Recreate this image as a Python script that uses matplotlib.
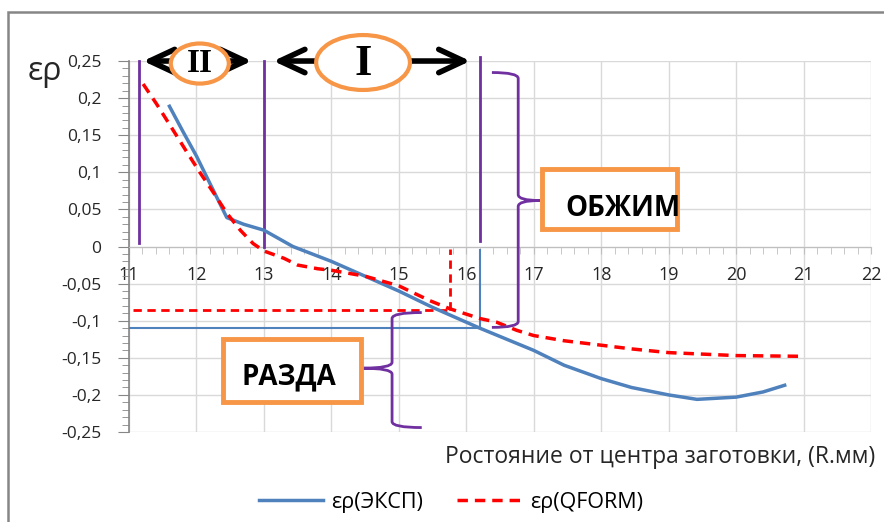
import matplotlib
matplotlib.use("Agg")
import matplotlib.pyplot as plt
from matplotlib.patches import Ellipse, Rectangle, FancyArrowPatch, PathPatch
from matplotlib.path import Path
from matplotlib.ticker import MultipleLocator, FixedLocator, FixedFormatter

plt.rcParams['font.family'] = ['Open Sans', 'DejaVu Sans']

# data
exp_x = [11.6, 11.8, 12.0, 12.2, 12.45, 12.7, 13.0, 13.43, 14.0, 14.5, 15.0, 15.5,
         16.2, 17.0, 17.45, 18.0, 18.45, 19.0, 19.42, 20.0, 20.4, 20.72]
exp_y = [0.189, 0.155, 0.122, 0.085, 0.039, 0.03, 0.022, 0.0, -0.02, -0.04, -0.06, -0.082,
         -0.11, -0.14, -0.16, -0.178, -0.19, -0.2, -0.206, -0.203, -0.196, -0.187]
qf_x = [11.21, 11.41, 11.66, 11.86, 12.05, 12.25, 12.45, 12.65, 12.84, 13.0, 13.3, 13.5,
        13.8, 14.0, 14.5, 15.0, 15.46, 15.76, 16.2, 16.45, 16.75, 17.0, 17.45, 18.0,
        18.45, 19.0, 20.0, 21.0]
qf_y = [0.219, 0.192, 0.156, 0.127, 0.1, 0.073, 0.045, 0.022, 0.004, -0.006, -0.016,
        -0.025, -0.03, -0.032, -0.04, -0.053, -0.073, -0.084, -0.097, -0.102, -0.113,
        -0.12, -0.127, -0.133, -0.138, -0.143, -0.147, -0.148]

y_ticks = [-0.25, -0.2, -0.15, -0.1, -0.05, 0, 0.05, 0.1, 0.15, 0.2, 0.25]
y_labels = ['-0,25', '-0,2', '-0,15', '-0,1', '-0,05', '0', '0,05', '0,1', '0,15', '0,2', '0,25']
x_ticks = list(range(11, 23))

# helper levels (dashed / thin lines to the curves)
exp_level, exp_cross = -0.11, 16.2
qf_level, qf_cross = -0.085, 15.76
zone_lines = [11.15, 13.0, 16.2]

blue = '#4F81BD'
red = '#FF0000'
purple = '#7030A0'
orange = '#F79646'

fig = plt.figure(figsize=(8.84, 5.22), dpi=100)
ax = fig.add_axes([0.1459, 0.1724, 0.8394, 0.7107])

ax.plot(exp_x, exp_y, color=blue, lw=2.5, label='ερ(ЭКСП)', zorder=4)
ax.plot(qf_x, qf_y, color=red, lw=2.5, ls=(0, (3, 2)), label='ερ(QFORM)', zorder=4)

ax.set_xlim(11, 22)
ax.set_ylim(-0.25, 0.25)
ax.xaxis.set_major_locator(FixedLocator(x_ticks))
ax.xaxis.set_minor_locator(MultipleLocator(0.2))
ax.yaxis.set_major_locator(FixedLocator(y_ticks))
ax.yaxis.set_major_formatter(FixedFormatter(y_labels))
ax.yaxis.set_minor_locator(MultipleLocator(0.01))
ax.grid(True, which='major', color='#D9D9D9', lw=1)
ax.set_axisbelow(True)

for s in ['top', 'right']:
    ax.spines[s].set_visible(False)
ax.spines['bottom'].set_position(('data', 0))
ax.spines['bottom'].set_color('#BFBFBF')
ax.spines['left'].set_color('#868686')
ax.spines['left'].set_linewidth(1.2)
ax.tick_params(axis='x', which='major', length=5, color='#BFBFBF', pad=9, labelsize=13)
ax.tick_params(axis='x', which='minor', length=5, color='#BFBFBF')
ax.tick_params(axis='y', which='major', length=8, color='#868686', pad=12, labelsize=12.5)
ax.tick_params(axis='y', which='minor', length=5, color='#868686')
for lab in ax.get_xticklabels() + ax.get_yticklabels():
    lab.set_color('#262626')

# helper lines
ax.plot([11, exp_cross], [exp_level, exp_level], color=blue, lw=1.5, zorder=3)
ax.plot([exp_cross, exp_cross], [exp_level, -0.005], color=blue, lw=1.5, zorder=3)
ax.plot([11.06, qf_cross], [qf_level, qf_level], color=red, lw=2, ls=(0, (3, 2)), zorder=3)
ax.plot([qf_cross, qf_cross], [qf_level, -0.003], color=red, lw=2, ls=(0, (3, 2)), zorder=3)

tops = [0.25, 0.25, 0.255]
bots = [0.005, 0.0, 0.008]
for xv, t, b in zip(zone_lines, tops, bots):
    ax.plot([xv, xv], [b, t], color=purple, lw=2, zorder=3, clip_on=False)

# zone arrows and ovals
for x0, x1 in [(11.21, 12.82), (13.14, 16.06)]:
    ax.add_patch(FancyArrowPatch((x0, 0.25), (x1, 0.25),
                                 arrowstyle='<->,head_length=0.9,head_width=0.42',
                                 mutation_scale=20, color='black', lw=4,
                                 clip_on=False, zorder=5, shrinkA=0, shrinkB=0))
ax.add_patch(Ellipse((12.05, 0.2466), 0.86, 0.054, facecolor='white', edgecolor=orange,
                     lw=3, clip_on=False, zorder=6))
ax.text(12.05, 0.2466, 'II', ha='center', va='center', fontsize=24, fontweight='bold',
        family='Liberation Serif', zorder=7, clip_on=False)
ax.add_patch(Ellipse((14.47, 0.248), 1.39, 0.074, facecolor='white', edgecolor=orange,
                     lw=3, clip_on=False, zorder=6))
ax.text(14.47, 0.246, 'I', ha='center', va='center', fontsize=32, fontweight='bold',
        family='Liberation Serif', zorder=7, clip_on=False)


def brace(x_end, x_mid, x_tip, y_top, y_tip, y_bot, dy=0.008):
    verts = [(x_end, y_top), (x_mid, y_top), (x_mid, y_top - dy),
             (x_mid, y_tip + dy), (x_mid, y_tip), (x_tip, y_tip),
             (x_mid, y_tip), (x_mid, y_tip - dy),
             (x_mid, y_bot + dy), (x_mid, y_bot), (x_end, y_bot)]
    codes = [Path.MOVETO, Path.CURVE3, Path.CURVE3,
             Path.LINETO, Path.CURVE3, Path.CURVE3,
             Path.CURVE3, Path.CURVE3,
             Path.LINETO, Path.CURVE3, Path.CURVE3]
    return PathPatch(Path(verts, codes), facecolor='none', edgecolor=purple, lw=2,
                     zorder=5, clip_on=False)


ax.add_patch(brace(16.38, 16.77, 17.09, 0.2345, 0.062, -0.109))
ax.add_patch(brace(15.34, 14.90, 14.45, -0.089, -0.164, -0.244))

# label boxes
ax.add_patch(Rectangle((17.12, 0.024), 2.0, 0.081, facecolor='white', edgecolor=orange,
                       lw=3.5, zorder=6))
ax.text(18.33, 0.051, 'ОБЖИМ', ha='center', va='center', fontsize=20, fontweight='bold',
        zorder=7)
ax.add_patch(Rectangle((12.39, -0.21), 2.05, 0.085, facecolor='white', edgecolor=orange,
                       lw=3.5, zorder=6))
ax.text(13.37, -0.176, 'РАЗДА', ha='center', va='center', fontsize=20, fontweight='bold',
        zorder=7)

# axis titles
fig.text(45 / 884, 1 - 72 / 522, 'ερ', ha='center', va='center', fontsize=23,
         color='#262626')
fig.text(875 / 884, 1 - 457 / 522, 'Ростояние от центра заготовки, (R.мм)', ha='right',
         va='center', fontsize=16.5, color='#262626')

fig.legend(loc='center', bbox_to_anchor=(0.51, 0.038), ncol=2, frameon=False,
           fontsize=15.5, handlelength=3.0, columnspacing=1.6, handletextpad=0.37)

# outer chart frame
fig.add_artist(Rectangle((8 / 884, -0.1), 1.2, 1.1 - 11.5 / 522, transform=fig.transFigure,
                         facecolor='none', edgecolor='#868686', lw=1.8))

fig.savefig('out.png', dpi=100)
